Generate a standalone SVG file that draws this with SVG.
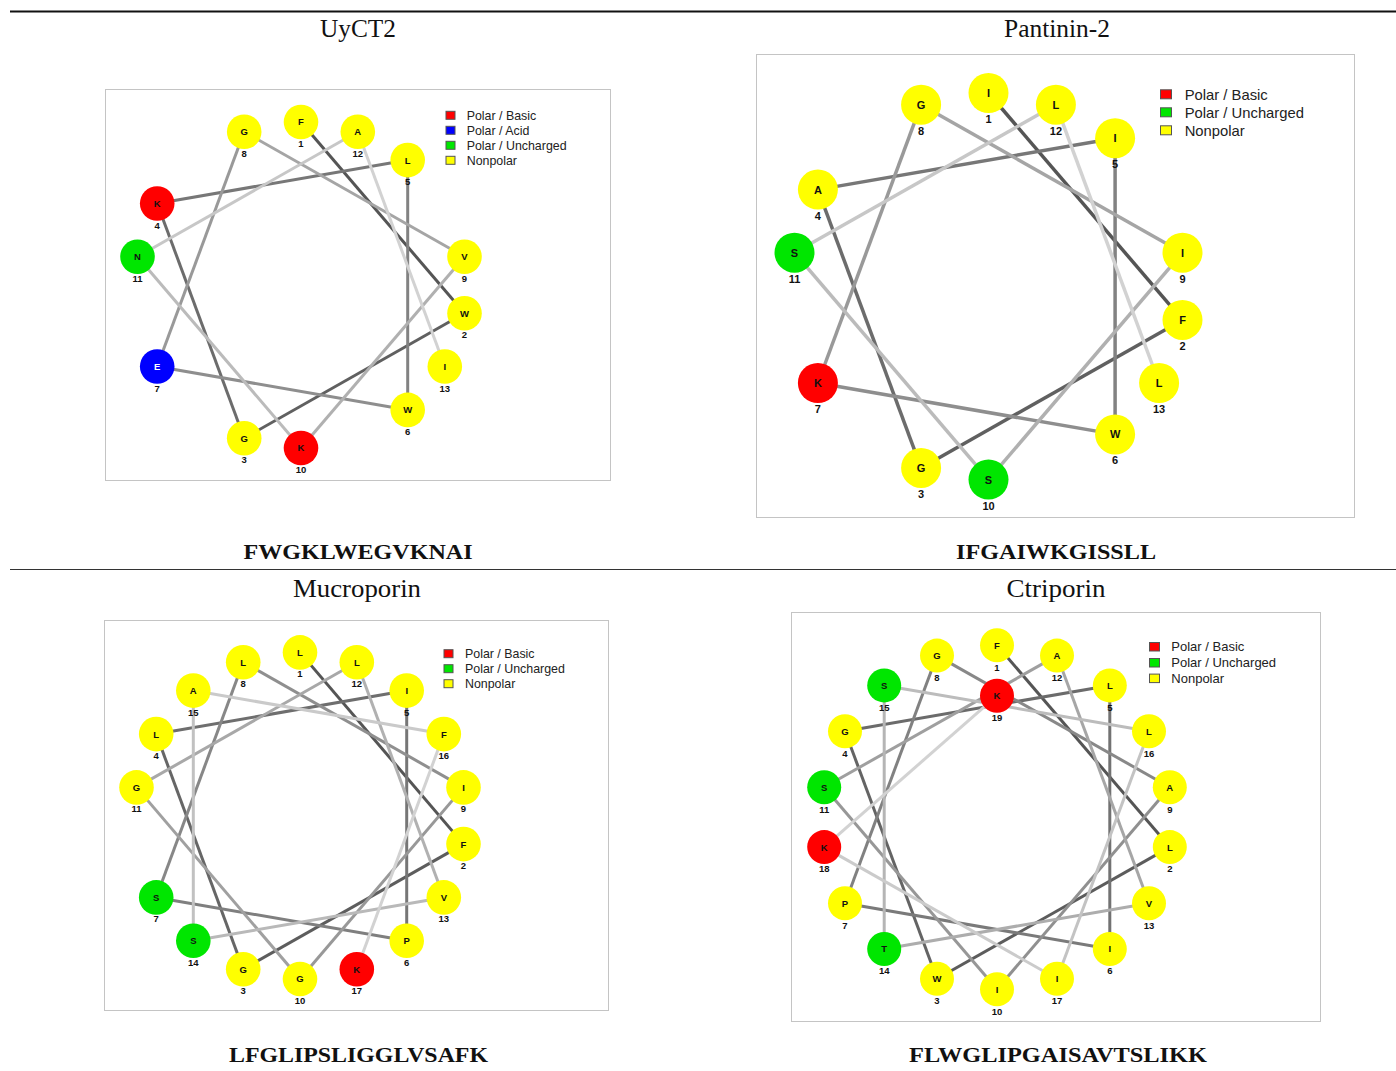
<svg xmlns="http://www.w3.org/2000/svg" width="1396" height="1071" viewBox="0 0 1396 1071">
<style>
.box{fill:#fff;stroke:#c4c4c4;stroke-width:1}
.c line{stroke-width:3;stroke-linecap:butt}
.c2 line{stroke-width:3.5}
.y{fill:#ffff00}.r{fill:#ff0000}.g{fill:#00e600}.b{fill:#0000ff}
.lt{font-family:"Liberation Sans",Arial,sans-serif;font-weight:bold;font-size:9.5px;text-anchor:middle;fill:#111}
.lt2{font-family:"Liberation Sans",Arial,sans-serif;font-weight:bold;font-size:11px;text-anchor:middle;fill:#111}
.w{fill:#fff}
.leg{font-family:"Liberation Sans",Arial,sans-serif;fill:#222}
.sq{stroke:#555;stroke-width:1}
.title{font-family:"Liberation Serif","Times New Roman",serif;font-size:25px;text-anchor:middle;fill:#111}
.seq{font-family:"Liberation Serif","Times New Roman",serif;font-size:22px;font-weight:bold;text-anchor:middle;fill:#111}
</style>
<rect width="1396" height="1071" fill="#fff"/>
<line x1="10" y1="11.5" x2="1396" y2="11.5" stroke="#111" stroke-width="2"/>
<line x1="10" y1="569.5" x2="1396" y2="569.5" stroke="#333" stroke-width="1.2"/>

<text class="title" x="358" y="37" textLength="76" lengthAdjust="spacingAndGlyphs">UyCT2</text>
<text class="title" x="1057" y="37" textLength="106" lengthAdjust="spacingAndGlyphs">Pantinin-2</text>
<text class="title" x="357" y="597" textLength="128" lengthAdjust="spacingAndGlyphs">Mucroporin</text>
<text class="title" x="1056" y="597" textLength="99" lengthAdjust="spacingAndGlyphs">Ctriporin</text>
<text class="seq" x="358" y="558.5" textLength="229" lengthAdjust="spacingAndGlyphs">FWGKLWEGVKNAI</text>
<text class="seq" x="1056" y="558.5" textLength="200" lengthAdjust="spacingAndGlyphs">IFGAIWKGISSLL</text>
<text class="seq" x="358.5" y="1062" textLength="259" lengthAdjust="spacingAndGlyphs">LFGLIPSLIGGLVSAFK</text>
<text class="seq" x="1058" y="1062" textLength="298" lengthAdjust="spacingAndGlyphs">FLWGLIPGAISAVTSLIKK</text>

<!-- Panel 1: UyCT2 -->
<rect class="box" x="105.5" y="89.5" width="505" height="391"/>
<g id="uyct2-legend">
<rect class="sq r" x="446" y="111.3" width="9" height="8"/><text class="leg" x="466.7" y="119.7" font-size="12.4">Polar / Basic</text>
<rect class="sq b" x="446" y="126.3" width="9" height="8"/><text class="leg" x="466.7" y="134.7" font-size="12.4">Polar / Acid</text>
<rect class="sq g" x="446" y="141.3" width="9" height="8"/><text class="leg" x="466.7" y="149.7" font-size="12.4">Polar / Uncharged</text>
<rect class="sq y" x="446" y="156.3" width="9" height="8"/><text class="leg" x="466.7" y="164.7" font-size="12.4">Nonpolar</text>
</g>
<g id="uyct2-connectors" class="c">
<line x1="301" y1="122" x2="464.5" y2="313.3" stroke="#555555"/>
<line x1="464.5" y1="313.3" x2="244.2" y2="438.2" stroke="#606060"/>
<line x1="244.2" y1="438.2" x2="157.2" y2="203.5" stroke="#6c6c6c"/>
<line x1="157.2" y1="203.5" x2="407.7" y2="160.1" stroke="#777777"/>
<line x1="407.7" y1="160.1" x2="407.7" y2="409.9" stroke="#828282"/>
<line x1="407.7" y1="409.9" x2="157.2" y2="366.5" stroke="#8e8e8e"/>
<line x1="157.2" y1="366.5" x2="244.2" y2="131.8" stroke="#999999"/>
<line x1="244.2" y1="131.8" x2="464.5" y2="256.7" stroke="#a5a5a5"/>
<line x1="464.5" y1="256.7" x2="301" y2="448" stroke="#b0b0b0"/>
<line x1="301" y1="448" x2="137.5" y2="256.7" stroke="#bbbbbb"/>
<line x1="137.5" y1="256.7" x2="357.8" y2="131.8" stroke="#c7c7c7"/>
<line x1="357.8" y1="131.8" x2="444.8" y2="366.5" stroke="#d2d2d2"/>
</g>
<g id="uyct2-1"><circle class="y" cx="301" cy="122" r="17.3"/><text class="lt" x="301" y="125.4">F</text><text class="lt" x="301" y="147">1</text></g>
<g id="uyct2-2"><circle class="y" cx="464.5" cy="313.3" r="17.3"/><text class="lt" x="464.5" y="316.7">W</text><text class="lt" x="464.5" y="338.3">2</text></g>
<g id="uyct2-3"><circle class="y" cx="244.2" cy="438.2" r="17.3"/><text class="lt" x="244.2" y="441.6">G</text><text class="lt" x="244.2" y="463.2">3</text></g>
<g id="uyct2-4"><circle class="r" cx="157.2" cy="203.5" r="17.3"/><text class="lt" x="157.2" y="206.9">K</text><text class="lt" x="157.2" y="228.5">4</text></g>
<g id="uyct2-5"><circle class="y" cx="407.7" cy="160.1" r="17.3"/><text class="lt" x="407.7" y="163.5">L</text><text class="lt" x="407.7" y="185.1">5</text></g>
<g id="uyct2-6"><circle class="y" cx="407.7" cy="409.9" r="17.3"/><text class="lt" x="407.7" y="413.3">W</text><text class="lt" x="407.7" y="434.9">6</text></g>
<g id="uyct2-7"><circle class="b" cx="157.2" cy="366.5" r="17.3"/><text class="lt w" x="157.2" y="369.9">E</text><text class="lt" x="157.2" y="391.5">7</text></g>
<g id="uyct2-8"><circle class="y" cx="244.2" cy="131.8" r="17.3"/><text class="lt" x="244.2" y="135.2">G</text><text class="lt" x="244.2" y="156.8">8</text></g>
<g id="uyct2-9"><circle class="y" cx="464.5" cy="256.7" r="17.3"/><text class="lt" x="464.5" y="260.1">V</text><text class="lt" x="464.5" y="281.7">9</text></g>
<g id="uyct2-10"><circle class="r" cx="301" cy="448" r="17.3"/><text class="lt" x="301" y="451.4">K</text><text class="lt" x="301" y="473">10</text></g>
<g id="uyct2-11"><circle class="g" cx="137.5" cy="256.7" r="17.3"/><text class="lt" x="137.5" y="260.1">N</text><text class="lt" x="137.5" y="281.7">11</text></g>
<g id="uyct2-12"><circle class="y" cx="357.8" cy="131.8" r="17.3"/><text class="lt" x="357.8" y="135.2">A</text><text class="lt" x="357.8" y="156.8">12</text></g>
<g id="uyct2-13"><circle class="y" cx="444.8" cy="366.5" r="17.3"/><text class="lt" x="444.8" y="369.9">I</text><text class="lt" x="444.8" y="391.5">13</text></g>

<!-- Panel 2: Pantinin-2 -->
<rect class="box" x="756.5" y="54.5" width="598" height="463"/>
<g id="pantinin-legend">
<rect class="sq r" x="1160.5" y="89.8" width="11" height="9"/><text class="leg" x="1184.7" y="99.6" font-size="14.8">Polar / Basic</text>
<rect class="sq g" x="1160.5" y="107.8" width="11" height="9"/><text class="leg" x="1184.7" y="117.6" font-size="14.8">Polar / Uncharged</text>
<rect class="sq y" x="1160.5" y="125.8" width="11" height="9"/><text class="leg" x="1184.7" y="135.6" font-size="14.8">Nonpolar</text>
</g>
<g id="pantinin-connectors" class="c c2">
<line x1="988.5" y1="93" x2="1182.5" y2="319.9" stroke="#555555"/>
<line x1="1182.5" y1="319.9" x2="921.1" y2="467.9" stroke="#606060"/>
<line x1="921.1" y1="467.9" x2="817.9" y2="189.6" stroke="#6c6c6c"/>
<line x1="817.9" y1="189.6" x2="1115.1" y2="138.2" stroke="#777777"/>
<line x1="1115.1" y1="138.2" x2="1115.1" y2="434.4" stroke="#828282"/>
<line x1="1115.1" y1="434.4" x2="817.9" y2="383" stroke="#8e8e8e"/>
<line x1="817.9" y1="383" x2="921.1" y2="104.7" stroke="#999999"/>
<line x1="921.1" y1="104.7" x2="1182.5" y2="252.7" stroke="#a5a5a5"/>
<line x1="1182.5" y1="252.7" x2="988.5" y2="479.6" stroke="#b0b0b0"/>
<line x1="988.5" y1="479.6" x2="794.5" y2="252.7" stroke="#bbbbbb"/>
<line x1="794.5" y1="252.7" x2="1055.9" y2="104.7" stroke="#c7c7c7"/>
<line x1="1055.9" y1="104.7" x2="1159.1" y2="383" stroke="#d2d2d2"/>
</g>
<g id="pantinin-1"><circle class="y" cx="988.5" cy="93" r="20"/><text class="lt2" x="988.5" y="97">I</text><text class="lt2" x="988.5" y="123">1</text></g>
<g id="pantinin-2"><circle class="y" cx="1182.5" cy="319.9" r="20"/><text class="lt2" x="1182.5" y="323.9">F</text><text class="lt2" x="1182.5" y="349.9">2</text></g>
<g id="pantinin-3"><circle class="y" cx="921.1" cy="467.9" r="20"/><text class="lt2" x="921.1" y="471.9">G</text><text class="lt2" x="921.1" y="497.9">3</text></g>
<g id="pantinin-4"><circle class="y" cx="817.9" cy="189.6" r="20"/><text class="lt2" x="817.9" y="193.6">A</text><text class="lt2" x="817.9" y="219.6">4</text></g>
<g id="pantinin-5"><circle class="y" cx="1115.1" cy="138.2" r="20"/><text class="lt2" x="1115.1" y="142.2">I</text><text class="lt2" x="1115.1" y="168.2">5</text></g>
<g id="pantinin-6"><circle class="y" cx="1115.1" cy="434.4" r="20"/><text class="lt2" x="1115.1" y="438.4">W</text><text class="lt2" x="1115.1" y="464.4">6</text></g>
<g id="pantinin-7"><circle class="r" cx="817.9" cy="383" r="20"/><text class="lt2" x="817.9" y="387">K</text><text class="lt2" x="817.9" y="413">7</text></g>
<g id="pantinin-8"><circle class="y" cx="921.1" cy="104.7" r="20"/><text class="lt2" x="921.1" y="108.7">G</text><text class="lt2" x="921.1" y="134.7">8</text></g>
<g id="pantinin-9"><circle class="y" cx="1182.5" cy="252.7" r="20"/><text class="lt2" x="1182.5" y="256.7">I</text><text class="lt2" x="1182.5" y="282.7">9</text></g>
<g id="pantinin-10"><circle class="g" cx="988.5" cy="479.6" r="20"/><text class="lt2" x="988.5" y="483.6">S</text><text class="lt2" x="988.5" y="509.6">10</text></g>
<g id="pantinin-11"><circle class="g" cx="794.5" cy="252.7" r="20"/><text class="lt2" x="794.5" y="256.7">S</text><text class="lt2" x="794.5" y="282.7">11</text></g>
<g id="pantinin-12"><circle class="y" cx="1055.9" cy="104.7" r="20"/><text class="lt2" x="1055.9" y="108.7">L</text><text class="lt2" x="1055.9" y="134.7">12</text></g>
<g id="pantinin-13"><circle class="y" cx="1159.1" cy="383" r="20"/><text class="lt2" x="1159.1" y="387">L</text><text class="lt2" x="1159.1" y="413">13</text></g>

<!-- Panel 3: Mucroporin -->
<rect class="box" x="104.5" y="620.5" width="504" height="390"/>
<g id="mucroporin-legend">
<rect class="sq r" x="444" y="649.7" width="9" height="8"/><text class="leg" x="465" y="658.1" font-size="12.4">Polar / Basic</text>
<rect class="sq g" x="444" y="664.7" width="9" height="8"/><text class="leg" x="465" y="673.1" font-size="12.4">Polar / Uncharged</text>
<rect class="sq y" x="444" y="679.7" width="9" height="8"/><text class="leg" x="465" y="688.1" font-size="12.4">Nonpolar</text>
</g>
<g id="mucroporin-connectors" class="c">
<line x1="300" y1="652.4" x2="463.5" y2="844.1" stroke="#555555"/>
<line x1="463.5" y1="844.1" x2="243.2" y2="969.2" stroke="#5d5d5d"/>
<line x1="243.2" y1="969.2" x2="156.2" y2="734.1" stroke="#666666"/>
<line x1="156.2" y1="734.1" x2="406.7" y2="690.6" stroke="#6e6e6e"/>
<line x1="406.7" y1="690.6" x2="406.7" y2="940.8" stroke="#767676"/>
<line x1="406.7" y1="940.8" x2="156.2" y2="897.4" stroke="#7f7f7f"/>
<line x1="156.2" y1="897.4" x2="243.2" y2="662.2" stroke="#878787"/>
<line x1="243.2" y1="662.2" x2="463.5" y2="787.4" stroke="#8f8f8f"/>
<line x1="463.5" y1="787.4" x2="300" y2="979" stroke="#989898"/>
<line x1="300" y1="979" x2="136.5" y2="787.4" stroke="#a0a0a0"/>
<line x1="136.5" y1="787.4" x2="356.8" y2="662.2" stroke="#a8a8a8"/>
<line x1="356.8" y1="662.2" x2="443.8" y2="897.4" stroke="#b1b1b1"/>
<line x1="443.8" y1="897.4" x2="193.3" y2="940.8" stroke="#b9b9b9"/>
<line x1="193.3" y1="940.8" x2="193.3" y2="690.6" stroke="#c1c1c1"/>
<line x1="193.3" y1="690.6" x2="443.8" y2="734.1" stroke="#cacaca"/>
<line x1="443.8" y1="734.1" x2="356.8" y2="969.2" stroke="#d2d2d2"/>
</g>
<g id="mucroporin-1"><circle class="y" cx="300" cy="652.4" r="17.3"/><text class="lt" x="300" y="655.8">L</text><text class="lt" x="300" y="677.4">1</text></g>
<g id="mucroporin-2"><circle class="y" cx="463.5" cy="844.1" r="17.3"/><text class="lt" x="463.5" y="847.5">F</text><text class="lt" x="463.5" y="869.1">2</text></g>
<g id="mucroporin-3"><circle class="y" cx="243.2" cy="969.2" r="17.3"/><text class="lt" x="243.2" y="972.6">G</text><text class="lt" x="243.2" y="994.2">3</text></g>
<g id="mucroporin-4"><circle class="y" cx="156.2" cy="734.1" r="17.3"/><text class="lt" x="156.2" y="737.5">L</text><text class="lt" x="156.2" y="759.1">4</text></g>
<g id="mucroporin-5"><circle class="y" cx="406.7" cy="690.6" r="17.3"/><text class="lt" x="406.7" y="694">I</text><text class="lt" x="406.7" y="715.6">5</text></g>
<g id="mucroporin-6"><circle class="y" cx="406.7" cy="940.8" r="17.3"/><text class="lt" x="406.7" y="944.2">P</text><text class="lt" x="406.7" y="965.8">6</text></g>
<g id="mucroporin-7"><circle class="g" cx="156.2" cy="897.4" r="17.3"/><text class="lt" x="156.2" y="900.8">S</text><text class="lt" x="156.2" y="922.4">7</text></g>
<g id="mucroporin-8"><circle class="y" cx="243.2" cy="662.2" r="17.3"/><text class="lt" x="243.2" y="665.6">L</text><text class="lt" x="243.2" y="687.2">8</text></g>
<g id="mucroporin-9"><circle class="y" cx="463.5" cy="787.4" r="17.3"/><text class="lt" x="463.5" y="790.8">I</text><text class="lt" x="463.5" y="812.4">9</text></g>
<g id="mucroporin-10"><circle class="y" cx="300" cy="979" r="17.3"/><text class="lt" x="300" y="982.4">G</text><text class="lt" x="300" y="1004">10</text></g>
<g id="mucroporin-11"><circle class="y" cx="136.5" cy="787.4" r="17.3"/><text class="lt" x="136.5" y="790.8">G</text><text class="lt" x="136.5" y="812.4">11</text></g>
<g id="mucroporin-12"><circle class="y" cx="356.8" cy="662.2" r="17.3"/><text class="lt" x="356.8" y="665.6">L</text><text class="lt" x="356.8" y="687.2">12</text></g>
<g id="mucroporin-13"><circle class="y" cx="443.8" cy="897.4" r="17.3"/><text class="lt" x="443.8" y="900.8">V</text><text class="lt" x="443.8" y="922.4">13</text></g>
<g id="mucroporin-14"><circle class="g" cx="193.3" cy="940.8" r="17.3"/><text class="lt" x="193.3" y="944.2">S</text><text class="lt" x="193.3" y="965.8">14</text></g>
<g id="mucroporin-15"><circle class="y" cx="193.3" cy="690.6" r="17.3"/><text class="lt" x="193.3" y="694">A</text><text class="lt" x="193.3" y="715.6">15</text></g>
<g id="mucroporin-16"><circle class="y" cx="443.8" cy="734.1" r="17.3"/><text class="lt" x="443.8" y="737.5">F</text><text class="lt" x="443.8" y="759.1">16</text></g>
<g id="mucroporin-17"><circle class="r" cx="356.8" cy="969.2" r="17.3"/><text class="lt" x="356.8" y="972.6">K</text><text class="lt" x="356.8" y="994.2">17</text></g>

<!-- Panel 4: Ctriporin -->
<rect class="box" x="791.5" y="612.5" width="529" height="409"/>
<g id="ctriporin-legend">
<rect class="sq r" x="1149.5" y="642.5" width="10" height="8.5"/><text class="leg" x="1171.3" y="651.4" font-size="13">Polar / Basic</text>
<rect class="sq g" x="1149.5" y="658.5" width="10" height="8.5"/><text class="leg" x="1171.3" y="667.4" font-size="13">Polar / Uncharged</text>
<rect class="sq y" x="1149.5" y="674.1" width="10" height="8.5"/><text class="leg" x="1171.3" y="683" font-size="13">Nonpolar</text>
</g>
<g id="ctriporin-connectors" class="c">
<line x1="997" y1="645.2" x2="1169.8" y2="847.1" stroke="#555555"/>
<line x1="1169.8" y1="847.1" x2="937" y2="978.8" stroke="#5c5c5c"/>
<line x1="937" y1="978.8" x2="845" y2="731.2" stroke="#646464"/>
<line x1="845" y1="731.2" x2="1109.8" y2="685.4" stroke="#6b6b6b"/>
<line x1="1109.8" y1="685.4" x2="1109.8" y2="949" stroke="#727272"/>
<line x1="1109.8" y1="949" x2="845" y2="903.2" stroke="#7a7a7a"/>
<line x1="845" y1="903.2" x2="937" y2="655.6" stroke="#818181"/>
<line x1="937" y1="655.6" x2="1169.8" y2="787.3" stroke="#888888"/>
<line x1="1169.8" y1="787.3" x2="997" y2="989.2" stroke="#909090"/>
<line x1="997" y1="989.2" x2="824.2" y2="787.3" stroke="#979797"/>
<line x1="824.2" y1="787.3" x2="1057" y2="655.6" stroke="#9f9f9f"/>
<line x1="1057" y1="655.6" x2="1149" y2="903.2" stroke="#a6a6a6"/>
<line x1="1149" y1="903.2" x2="884.2" y2="949" stroke="#adadad"/>
<line x1="884.2" y1="949" x2="884.2" y2="685.4" stroke="#b5b5b5"/>
<line x1="884.2" y1="685.4" x2="1149" y2="731.2" stroke="#bcbcbc"/>
<line x1="1149" y1="731.2" x2="1057" y2="978.8" stroke="#c3c3c3"/>
<line x1="1057" y1="978.8" x2="824.2" y2="847.1" stroke="#cbcbcb"/>
<line x1="824.2" y1="847.1" x2="997" y2="695.7" stroke="#d2d2d2"/>
</g>
<g id="ctriporin-1"><circle class="y" cx="997" cy="645.2" r="17"/><text class="lt" x="997" y="648.6">F</text><text class="lt" x="997" y="670.5">1</text></g>
<g id="ctriporin-2"><circle class="y" cx="1169.8" cy="847.1" r="17"/><text class="lt" x="1169.8" y="850.5">L</text><text class="lt" x="1169.8" y="872.4">2</text></g>
<g id="ctriporin-3"><circle class="y" cx="937" cy="978.8" r="17"/><text class="lt" x="937" y="982.2">W</text><text class="lt" x="937" y="1004.1">3</text></g>
<g id="ctriporin-4"><circle class="y" cx="845" cy="731.2" r="17"/><text class="lt" x="845" y="734.6">G</text><text class="lt" x="845" y="756.5">4</text></g>
<g id="ctriporin-5"><circle class="y" cx="1109.8" cy="685.4" r="17"/><text class="lt" x="1109.8" y="688.8">L</text><text class="lt" x="1109.8" y="710.7">5</text></g>
<g id="ctriporin-6"><circle class="y" cx="1109.8" cy="949" r="17"/><text class="lt" x="1109.8" y="952.4">I</text><text class="lt" x="1109.8" y="974.3">6</text></g>
<g id="ctriporin-7"><circle class="y" cx="845" cy="903.2" r="17"/><text class="lt" x="845" y="906.6">P</text><text class="lt" x="845" y="928.5">7</text></g>
<g id="ctriporin-8"><circle class="y" cx="937" cy="655.6" r="17"/><text class="lt" x="937" y="659">G</text><text class="lt" x="937" y="680.9">8</text></g>
<g id="ctriporin-9"><circle class="y" cx="1169.8" cy="787.3" r="17"/><text class="lt" x="1169.8" y="790.7">A</text><text class="lt" x="1169.8" y="812.6">9</text></g>
<g id="ctriporin-10"><circle class="y" cx="997" cy="989.2" r="17"/><text class="lt" x="997" y="992.6">I</text><text class="lt" x="997" y="1014.5">10</text></g>
<g id="ctriporin-11"><circle class="g" cx="824.2" cy="787.3" r="17"/><text class="lt" x="824.2" y="790.7">S</text><text class="lt" x="824.2" y="812.6">11</text></g>
<g id="ctriporin-12"><circle class="y" cx="1057" cy="655.6" r="17"/><text class="lt" x="1057" y="659">A</text><text class="lt" x="1057" y="680.9">12</text></g>
<g id="ctriporin-13"><circle class="y" cx="1149" cy="903.2" r="17"/><text class="lt" x="1149" y="906.6">V</text><text class="lt" x="1149" y="928.5">13</text></g>
<g id="ctriporin-14"><circle class="g" cx="884.2" cy="949" r="17"/><text class="lt" x="884.2" y="952.4">T</text><text class="lt" x="884.2" y="974.3">14</text></g>
<g id="ctriporin-15"><circle class="g" cx="884.2" cy="685.4" r="17"/><text class="lt" x="884.2" y="688.8">S</text><text class="lt" x="884.2" y="710.7">15</text></g>
<g id="ctriporin-16"><circle class="y" cx="1149" cy="731.2" r="17"/><text class="lt" x="1149" y="734.6">L</text><text class="lt" x="1149" y="756.5">16</text></g>
<g id="ctriporin-17"><circle class="y" cx="1057" cy="978.8" r="17"/><text class="lt" x="1057" y="982.2">I</text><text class="lt" x="1057" y="1004.1">17</text></g>
<g id="ctriporin-18"><circle class="r" cx="824.2" cy="847.1" r="17"/><text class="lt" x="824.2" y="850.5">K</text><text class="lt" x="824.2" y="872.4">18</text></g>
<g id="ctriporin-19"><circle class="r" cx="997" cy="695.7" r="17"/><text class="lt" x="997" y="699.1">K</text><text class="lt" x="997" y="721">19</text></g>
</svg>
